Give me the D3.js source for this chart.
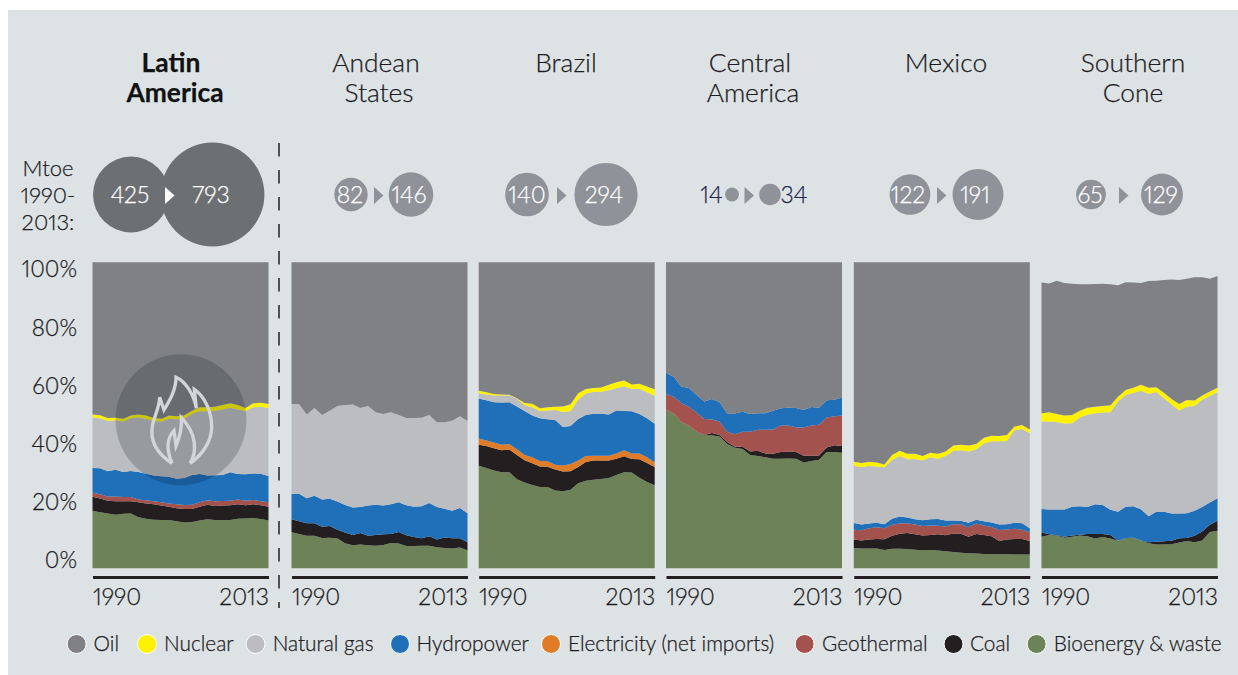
<!DOCTYPE html>
<html><head><meta charset="utf-8">
<script src="https://cdn.jsdelivr.net/npm/d3@7"></script>
<style>
html,body{margin:0;padding:0;background:#fff;}
svg{display:block;}
text{font-family:Lato,"Open Sans",sans-serif;font-weight:300;fill:#1c1b1d;stroke:#1c1b1d;stroke-width:0.25px;font-variant-numeric:proportional-nums;font-feature-settings:"pnum" 1;}
</style></head><body><svg id="c" width="1238" height="675"></svg>
<script>
// Each array = top edge of that layer in the 100% stack (percent), one value per year 1990-2013
const years = d3.range(1990, 2014);
const yearLabels = [1990, 2013];
const percentTicks = [0, 20, 40, 60, 80, 100];
const seriesNames = ["Oil","Nuclear","Natural gas","Hydropower","Electricity (net imports)","Geothermal","Coal","Bioenergy & waste"];
const seriesColors = ["#808184","#fff200","#bbbdc0","#1f6fb9","#e07b28","#a3524d","#231f20","#6d8257"];
const regionNames = [["Latin","America"],["Andean","States"],["Brazil"],["Central","America"],["Mexico"],["Southern","Cone"]];
const mtoe1990 = [425,82,140,14,122,65];
const mtoe2013 = [793,146,294,34,191,129];

const latamBio = [18.8,18.3,17.9,17.5,17.8,17.9,16.7,16.2,15.9,15.8,15.8,15.4,15.0,15.1,15.6,16.0,15.8,15.8,15.8,16.2,16.3,16.4,16.1,15.6];
const latamCoal = [23.4,22.8,22.1,21.9,21.9,21.9,21.6,21.2,20.9,20.5,20.1,19.6,19.4,19.4,20.1,20.8,20.4,20.5,20.6,20.9,20.6,20.9,20.6,20.1];
const latamGeo = [24.8,24.2,23.5,23.5,23.3,23.3,22.5,22.2,21.9,21.6,21.2,20.9,20.7,20.8,21.6,22.2,21.9,22.0,22.1,22.5,22.1,22.3,21.9,21.6];
const latamHydro = [32.8,32.7,31.7,32.2,31.5,31.8,31.5,30.9,30.3,30.1,29.9,29.3,29.5,30.5,30.8,30.3,30.4,30.5,31.4,30.8,30.7,31.0,30.9,30.2];
const latamGas = [49.3,49.0,48.2,48.4,48.0,49.0,49.4,48.9,48.1,48.0,48.9,48.7,48.9,50.5,51.3,51.3,51.5,51.9,52.5,51.9,51.4,52.6,52.8,52.4];
const latamNuclear = [50.3,50.0,49.1,49.2,48.9,49.9,50.3,49.9,49.1,48.9,49.9,49.7,50.0,51.5,52.6,52.6,52.8,53.4,53.9,53.4,52.4,53.9,54.1,53.7];

const andeanBio = [11.8,11.2,10.6,10.6,9.9,10.0,9.7,8.2,7.5,7.8,7.5,7.4,7.6,8.3,8.1,7.3,7.3,7.4,7.4,6.9,6.6,6.5,6.8,5.9];
const andeanCoal = [16.0,15.4,14.7,14.7,13.6,13.8,12.6,11.7,10.9,11.5,10.6,10.9,11.1,11.2,11.9,10.8,10.2,9.8,10.5,9.4,10.1,9.8,9.8,8.5];
const andeanHydro = [24.4,24.4,22.9,23.7,22.5,22.7,21.8,20.7,19.9,20.0,20.5,20.8,20.5,20.9,21.6,20.6,20.1,20.3,21.3,20.0,19.5,18.8,19.7,18.0];
const andeanGas = [53.7,53.6,50.3,52.4,50.1,51.5,53.0,53.4,53.5,52.4,53.0,51.0,50.4,51.0,50.1,49.1,49.1,49.2,50.1,47.7,47.7,48.2,49.7,48.1];

const brazilBio = [33.5,32.8,32.0,31.4,31.4,29.1,28.0,27.2,26.6,26.6,25.4,25.2,25.7,27.8,28.6,28.9,29.2,29.5,30.5,31.4,31.3,29.6,28.2,27.1];
const brazilCoal = [40.4,40.0,39.2,38.6,38.8,37.0,35.3,34.3,33.3,33.2,32.3,31.6,31.7,33.1,34.7,35.2,35.2,35.2,35.8,36.6,35.7,35.6,34.4,33.1];
const brazilElectricity = [42.4,41.8,41.1,40.4,40.6,38.9,37.0,36.3,35.1,35.0,33.8,33.6,34.1,35.2,36.7,36.8,36.8,36.8,37.5,38.6,37.5,37.5,36.3,34.6];
const brazilHydro = [55.5,54.9,54.3,54.2,54.3,52.9,51.4,49.9,49.0,48.7,48.5,46.2,46.5,48.8,50.1,50.5,50.5,50.3,51.6,51.4,51.3,50.4,49.0,47.2];
const brazilGas = [57.2,56.8,56.5,56.5,56.5,55.4,53.3,52.6,51.4,51.6,51.7,51.1,51.3,55.1,57.1,57.6,57.7,58.2,58.8,59.5,58.6,58.7,57.5,56.3];
const brazilNuclear = [58.0,57.5,57.0,56.8,56.7,55.6,54.0,53.8,52.3,52.6,52.8,52.9,53.6,57.2,58.6,58.9,59.1,60.0,60.8,61.4,60.1,60.3,59.4,58.5];

const centralBio = [51.9,50.6,47.8,46.6,44.6,43.5,43.5,43.1,40.6,39.4,39.0,37.0,36.7,36.3,35.8,35.8,35.9,35.8,34.6,35.1,35.5,38.0,38.0,37.8];
const centralCoal = [51.9,50.6,47.8,46.6,44.6,43.6,44.2,43.6,41.3,39.7,39.7,38.2,38.4,37.5,37.4,38.0,38.2,38.0,36.8,36.8,36.9,39.5,40.2,40.0];
const centralGeo = [57.0,56.1,54.0,52.8,50.9,48.8,48.6,48.0,44.6,43.8,44.6,44.6,45.3,45.3,45.4,46.7,46.7,46.0,46.0,46.7,46.9,49.3,49.7,49.9];
const centralHydro = [63.9,62.6,59.4,58.9,56.6,54.5,55.3,54.3,50.6,50.6,51.2,50.4,50.7,50.7,51.5,52.3,52.5,52.4,51.7,52.7,52.5,54.9,55.1,55.8];

const mexicoBio = [6.6,6.5,6.5,6.5,6.0,6.4,6.4,6.3,6.1,5.9,6.0,5.8,5.6,5.3,5.1,4.9,4.8,4.7,4.6,4.6,4.6,4.5,4.5,4.5];
const mexicoCoal = [9.4,9.1,9.4,9.6,9.5,10.6,11.3,11.5,11.1,10.7,10.9,11.1,10.8,11.4,11.3,10.3,11.2,10.9,10.5,8.9,9.4,9.6,9.6,8.9];
const mexicoGeo = [12.6,12.4,13.1,13.4,13.1,14.2,14.6,14.7,14.3,13.8,14.0,13.9,13.7,14.4,14.4,13.4,14.6,14.0,13.5,12.5,12.7,12.9,12.6,11.8];
const mexicoHydro = [14.8,14.3,14.6,14.9,14.4,16.2,16.9,16.6,16.0,15.7,16.0,16.1,15.6,15.6,15.5,14.9,15.9,15.4,15.0,14.3,14.4,14.9,14.7,13.1];
const mexicoGas = [33.4,33.1,33.4,33.3,33.0,35.4,36.7,35.6,35.7,35.2,36.3,35.8,36.7,38.3,38.6,38.2,38.9,40.8,41.5,41.5,41.6,45.1,45.5,44.1];
const mexicoNuclear = [34.8,34.4,34.8,34.6,33.9,37.0,38.4,37.4,37.4,36.7,37.8,37.4,38.2,40.1,40.4,40.1,40.6,42.7,43.3,43.2,43.6,46.3,46.8,45.4];

const southernBio = [10.3,10.9,10.7,10.0,10.3,10.7,10.5,9.7,10.2,9.7,9.0,9.9,10.0,9.1,8.2,7.8,7.8,7.9,8.4,8.9,8.5,9.1,11.9,12.3];
const southernCoal = [11.7,11.1,10.8,10.3,10.7,11.0,11.2,11.2,11.2,10.9,9.0,9.9,10.0,9.1,8.5,8.7,8.8,9.0,9.8,9.9,10.6,12.0,14.2,15.5];
const southernHydro = [19.4,19.2,19.2,19.2,20.1,20.3,20.0,20.9,20.7,19.1,18.5,20.1,20.3,19.3,17.0,18.5,18.5,17.9,17.9,18.0,18.8,20.0,21.5,22.9];
const southernGas = [48.0,48.0,47.8,47.3,47.4,49.3,50.2,50.7,50.9,51.0,54.5,56.6,57.3,58.0,57.0,57.6,55.6,53.5,51.6,52.8,53.0,55.1,56.3,57.5];
const southernNuclear = [50.7,51.0,50.4,49.9,50.1,51.5,52.5,52.8,53.0,53.3,56.1,58.3,59.0,60.0,59.0,59.2,57.4,55.3,53.7,55.0,54.8,56.5,57.8,59.0];
const southernOil = [93.4,93.1,94.0,93.2,93.0,92.8,92.8,92.9,93.0,92.8,92.5,93.5,93.4,93.2,93.9,94.0,94.2,94.4,94.2,94.6,95.1,95.1,94.6,95.5];
const fullOil = years.map(() => 100);

// table of layers (bottom to top) per region, series index into seriesNames
const regionLayers = [
  [[7,latamBio],[6,latamCoal],[5,latamGeo],[3,latamHydro],[2,latamGas],[1,latamNuclear],[0,fullOil]],
  [[7,andeanBio],[6,andeanCoal],[3,andeanHydro],[2,andeanGas],[0,fullOil]],
  [[7,brazilBio],[6,brazilCoal],[4,brazilElectricity],[3,brazilHydro],[2,brazilGas],[1,brazilNuclear],[0,fullOil]],
  [[7,centralBio],[6,centralCoal],[5,centralGeo],[3,centralHydro],[0,fullOil]],
  [[7,mexicoBio],[6,mexicoCoal],[5,mexicoGeo],[3,mexicoHydro],[2,mexicoGas],[1,mexicoNuclear],[0,fullOil]],
  [[7,southernBio],[6,southernCoal],[3,southernHydro],[2,southernGas],[1,southernNuclear],[0,southernOil]]
];

// layout
const W = 1238, H = 675;
const panelLeft = [92.5,291.5,478.7,666,853.8,1041.5], panelW = 176;
const titleX = [[171,175],[376,379],[566],[750,753],[946],[1133,1133]];
const bubbleX = [[131,212.5],[351,411],[527,606],[732,770],[910,978],[1091,1162]];
const bubbleTextX = [[130,211],[350,409],[527,604],[711.5,794],[908,975],[1090,1161]];
const arrowX = [165,374,557,744.5,937,1119];
const legendCircleX = [76.6,147,255.5,400,551,804.6,953.5,1036.6];
const legendTextX = [93.6,164,272.7,416.6,568,822,970,1053.8];
const FONT = 'Lato,"Open Sans",sans-serif';

const svg = d3.select("#c");
svg.append("rect").attr("x",8).attr("y",10).attr("width",W-8).attr("height",H-10).attr("fill","#dde2e5");

const y = d3.scaleLinear().domain([0,100]).range([568.3,262.3]);
const labelY = d3.scaleLinear().domain([0,100]).range([560,269]);
const rScale = d3.scaleSqrt().domain([0,425]).range([0,38]);

// percent axis
const gy = svg.append("g").attr("transform","translate(77,0)")
  .call(d3.axisLeft(labelY).tickValues(percentTicks).tickFormat(d=>d+"%").tickSize(0).tickPadding(0));
gy.select(".domain").remove();
gy.selectAll("text").attr("font-family",FONT).attr("font-size",22.5).attr("dy","0.35em").attr("x",0).style("fill","#1c1b1d");

regionLayers.forEach((layers,ri)=>{
  const left = panelLeft[ri];
  const x = d3.scaleLinear().domain([1990,2013]).range([left,left+panelW]);
  const g = svg.append("g");
  const zero = years.map(()=>0);
  layers.forEach(([si,tops],li)=>{
    const base = li ? layers[li-1][1] : zero;
    const area = d3.area().x((d,i)=>x(years[i])).y0((d,i)=>y(base[i])).y1((d,i)=>y(tops[i]));
    g.append("path").attr("d",area(tops)).attr("fill",seriesColors[si]);
  });
  // axis
  const ax = svg.append("g").attr("transform","translate(0,577)")
    .call(d3.axisBottom(x).tickValues(yearLabels).tickFormat(d3.format("d")).tickSize(0).tickPadding(0));
  ax.select(".domain").attr("stroke","#231f20").attr("stroke-width",3);
  ax.selectAll("text").attr("font-family",FONT).attr("font-size",23).attr("y",20).attr("dy","0.35em")
    .attr("text-anchor",d=>d===1990?"start":"end").style("fill","#1c1b1d");
  // title
  regionNames[ri].forEach((t,k)=>{
    svg.append("text").attr("x",titleX[ri][k]).attr("y",72+30*k).attr("text-anchor","middle")
      .attr("font-size",26.4).style("font-weight",ri===0?700:300).style("fill",ri===0?"#111":"#1c1b1d").text(t);
  });
  // bubbles
  const col = ri===0?"#6d7073":"#8f9299";
  [mtoe1990[ri],mtoe2013[ri]].forEach((v,k)=>{
    svg.append("circle").attr("cx",bubbleX[ri][k]).attr("cy",194.5).attr("r",rScale(v)).attr("fill",col);
  });
  const ax0 = arrowX[ri];
  svg.append("path").attr("d",d3.line()([[ax0,187],[ax0+9.5,195.5],[ax0,204]])+"Z").attr("fill",ri===0?"#fff":col);
  [mtoe1990[ri],mtoe2013[ri]].forEach((v,k)=>{
    const tc = ri===3?"#1d2550":"#fff";
    svg.append("text").attr("x",bubbleTextX[ri][k]).attr("y",194.5).attr("dy","0.35em")
      .attr("text-anchor","middle").attr("font-size",23)
      .style("fill",tc).style("stroke",tc).text(v);
  });
});

// Mtoe label
["Mtoe","1990-","2013:"].forEach((t,k)=>{
  svg.append("text").attr("x",48).attr("y",168+27*k).attr("dy","0.35em").attr("text-anchor","middle").attr("font-size",22).text(t);
});

// dashed divider
svg.append("line").attr("x1",279).attr("x2",279).attr("y1",143).attr("y2",608)
  .attr("stroke","#231f20").attr("stroke-width",1.5).attr("stroke-dasharray","13.5 13.5");

// gas flame icon
const flame = svg.append("g");
flame.append("circle").attr("cx",181).attr("cy",419.7).attr("r",65.5).attr("fill","#0a1420").attr("opacity",0.2);
const fi = flame.append("g").attr("transform","translate(100,340) scale(0.3333)")
  .attr("fill","none").attr("stroke","#d3d6d8").attr("stroke-width",10).attr("stroke-linejoin","miter");
fi.append("path").attr("d","M216 370 C170 340 150 300 157 258 C162 230 178 205 179 172 L192 210 C210 180 228 150 228 112 C258 125 282 165 289 205 L283 148 C315 170 335 215 335 260 C335 310 300 350 270 370");
fi.append("path").attr("d","M270 370 C292 335 290 280 244 233 C246 260 240 290 228 318 L222 272 C205 290 195 320 216 370");

// legend
seriesNames.forEach((n,i)=>{
  svg.append("circle").attr("cx",legendCircleX[i]).attr("cy",644).attr("r",9.5)
    .attr("fill",seriesColors[i]).attr("stroke","#fff").attr("stroke-width",1);
  svg.append("text").attr("x",legendTextX[i]).attr("y",644).attr("dy","0.35em").attr("font-size",20.8).text(n);
});
</script></body></html>
